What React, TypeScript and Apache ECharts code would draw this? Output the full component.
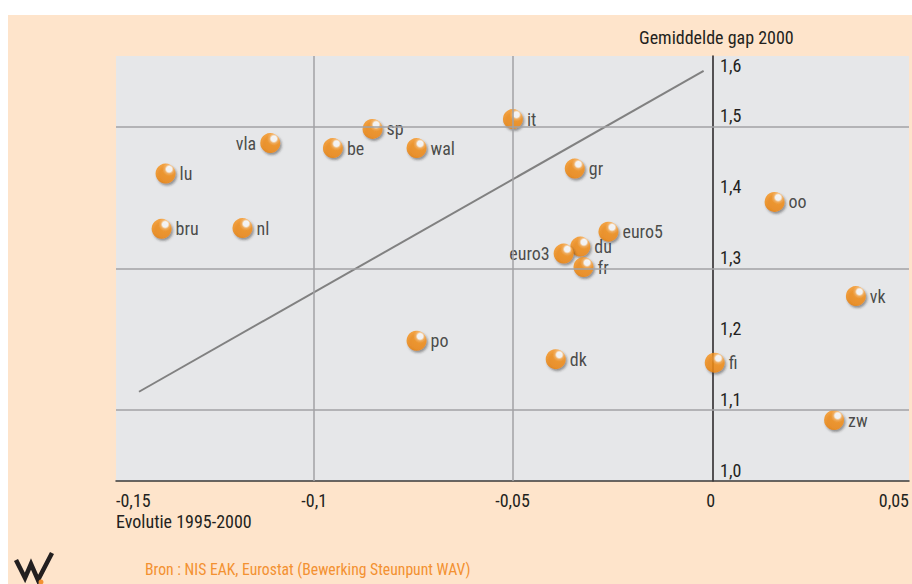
import React, { useEffect, useRef } from "react";
import * as echarts from "echarts";

const names = ["lu", "bru", "nl", "vla", "be", "sp", "wal", "it", "gr", "oo", "euro5", "du", "euro3", "fr", "vk", "po", "dk", "fi", "zw"];
const xValues = [-0.1375, -0.1385, -0.1181, -0.1111, -0.0953, -0.0853, -0.0742, -0.0499, -0.0343, 0.0161, -0.0258, -0.0329, -0.0371, -0.0321, 0.0366, -0.0742, -0.0391, 0.001, 0.0311];
const yValues = [1.434, 1.356, 1.357, 1.477, 1.47, 1.497, 1.47, 1.511, 1.441, 1.394, 1.352, 1.331, 1.321, 1.302, 1.261, 1.198, 1.172, 1.167, 1.086];
const leftLabelled = ["vla", "euro3"];
const trendX = [-0.1442, -0.0018];
const trendY = [1.126, 1.579];
const xGridLines = [-0.1, -0.05];
const yGridLines = [1.1, 1.3, 1.5];
const xTitle = "Evolutie 1995-2000";
const yTitle = "Gemiddelde gap 2000";
const sourceText = "Bron : NIS EAK, Eurostat (Bewerking Steunpunt WAV)";

const FONT = "'Roboto Condensed', 'Liberation Sans Narrow', sans-serif";
const TEXT = "#231f20";

export default function App() {
  const ref = useRef<HTMLDivElement>(null);
  useEffect(() => {
    if (!ref.current) return;
    const chart = echarts.init(ref.current, undefined, { renderer: "svg" });
    const bubble = new echarts.graphic.RadialGradient(0.68, 0.28, 0.8, [
      { offset: 0, color: "#ffffff" },
      { offset: 0.17, color: "#ffffff" },
      { offset: 0.28, color: "#fbac50" },
      { offset: 0.42, color: "#f7921a" },
      { offset: 0.85, color: "#f28a10" },
      { offset: 1, color: "#e07a0a" },
    ]);
    const pts = names.map((n, i) => ({
      name: n,
      value: [xValues[i], yValues[i]],
      label: { position: leftLabelled.includes(n) ? "left" : "right" },
    }));
    chart.setOption({
      animation: false,
      backgroundColor: "#fee4cb",
      textStyle: { fontFamily: FONT },
      grid: {
        left: 108,
        top: 41,
        right: 0,
        bottom: 103,
        show: true,
        backgroundColor: "#e6e7e9",
        borderWidth: 0,
      },
      xAxis: {
        type: "value",
        min: -0.15,
        max: 0.05,
        interval: 0.05,
        axisLine: { onZero: false, lineStyle: { color: "#3a3a3a", width: 1.5 } },
        axisTick: { show: false },
        splitLine: { show: false },
        axisLabel: {
          color: TEXT,
          fontSize: 18,
          fontFamily: FONT,
          margin: 10,
          alignMinLabel: "left",
          alignMaxLabel: "right",
          formatter: (v: number) => String(v).replace(".", ","),
        },
      },
      yAxis: {
        type: "value",
        min: 1.0,
        max: 1.6,
        interval: 0.1,
        position: "left",
        offset: -597,
        axisLine: { onZero: false, lineStyle: { color: TEXT, width: 1.5 } },
        axisTick: { show: false },
        splitLine: { show: false },
        axisLabel: {
          inside: true,
          color: TEXT,
          fontSize: 18,
          fontFamily: FONT,
          margin: 7,
          align: "left",
          verticalAlign: "bottom",
          verticalAlignMaxLabel: "top",
          padding: [0, 0, 2, 0],
          formatter: (v: number) => v.toFixed(1).replace(".", ","),
        },
      },
      graphic: [
        {
          type: "text",
          left: 631,
          top: 13,
          style: { text: yTitle, fontSize: 18, fontFamily: FONT, fill: TEXT },
        },
        {
          type: "text",
          left: 108,
          top: 497,
          style: { text: xTitle, fontSize: 18, fontFamily: FONT, fill: TEXT },
        },
        {
          type: "text",
          left: 137,
          top: 546,
          style: { text: sourceText, fontSize: 15.7, fontFamily: FONT, fill: "#f39131" },
        },
        {
          type: "polyline",
          shape: { points: [[8, 545], [17, 563], [23, 549], [30, 565], [44, 538]] },
          style: { stroke: TEXT, lineWidth: 4.5, fill: "none", lineJoin: "miter" },
        },
        {
          type: "circle",
          shape: { cx: 33, cy: 567, r: 2.5 },
          style: { fill: "#f39131" },
        },
      ],
      series: [
        {
          type: "line",
          data: [],
          silent: true,
          z: 1,
          markLine: {
            silent: true,
            symbol: "none",
            label: { show: false },
            lineStyle: { color: "#a2a2a4", width: 1.5, type: "solid" },
            data: [
              ...yGridLines.map((v) => ({ yAxis: v })),
              ...xGridLines.map((v) => ({ xAxis: v })),
            ],
          },
        },
        {
          type: "line",
          data: trendX.map((x, i) => [x, trendY[i]]),
          symbol: "none",
          silent: true,
          z: 2,
          lineStyle: { color: "#818181", width: 2 },
        },
        {
          type: "scatter",
          data: pts,
          symbolSize: 20,
          z: 3,
          itemStyle: {
            color: bubble,
            shadowColor: "rgba(40,40,40,0.55)",
            shadowBlur: 2,
            shadowOffsetX: 1.5,
            shadowOffsetY: 2,
          },
          label: {
            show: true,
            formatter: "{b}",
            color: TEXT,
            fontSize: 18,
            fontFamily: FONT,
            distance: 4,
          },
        },
      ],
    });
    return () => chart.dispose();
  }, []);
  return (
    <div
      ref={ref}
      style={{ position: "fixed", left: 8, top: 15, width: 904, height: 569 }}
    />
  );
}
